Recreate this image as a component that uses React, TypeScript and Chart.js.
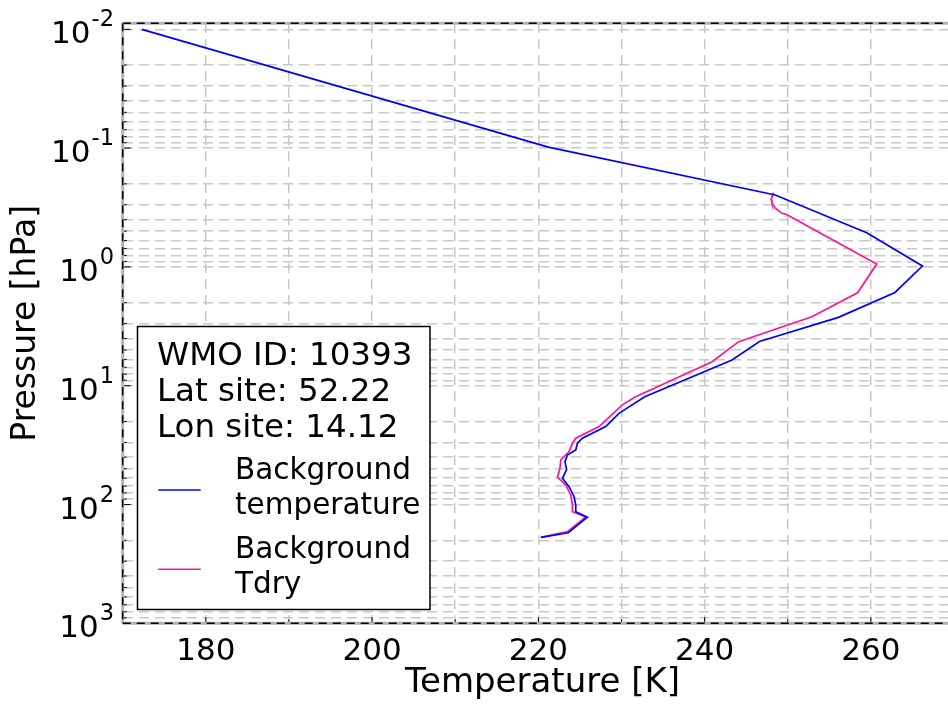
import React, { useEffect, useRef } from 'react';
import { Chart, registerables } from 'chart.js';

Chart.register(...registerables);

const FONT = '"DejaVu Sans", "Liberation Sans", sans-serif';

// Background temperature profile: pressure [hPa] and temperature [K]
const bluePressure = [0.01, 0.098, 0.248, 0.515, 0.983, 1.64, 2.66, 4.25, 6.08, 12.4, 17.1, 22.1, 27.7, 30.5, 34.8, 38.3, 43.6, 50.6, 60.2, 70.8, 86.0, 101, 115, 128, 173, 189];
const blueTemp = [172.3, 221.2, 248.5, 259.5, 266.2, 262.9, 256.1, 246.6, 243.3, 232.8, 229.7, 228.1, 225.3, 224.7, 224.5, 223.5, 223.2, 223.4, 222.9, 223.7, 224.3, 224.5, 224.5, 225.9, 223.6, 220.3];

// Background Tdry profile
const pinkPressure = [0.237, 0.27, 0.29, 0.32, 0.354, 0.36, 0.945, 1.65, 2.63, 4.26, 6.28, 12.4, 14.5, 22.1, 27.7, 30.5, 35.9, 42.2, 49.6, 59.0, 68.5, 83.2, 101, 115, 127, 169, 189];
const pinkTemp = [248.3, 248.0, 248.1, 248.5, 249.3, 249.8, 260.7, 258.4, 252.9, 244.1, 240.9, 231.7, 230.1, 227.3, 224.5, 224.1, 223.7, 222.7, 222.6, 222.3, 223.3, 223.9, 224.1, 224.1, 225.7, 223.5, 220.3];

const seriesNames = [['Background', 'temperature'], ['Background', 'Tdry']];
const seriesColors = ['#0000ff', '#ff1493'];
const infoLines = ['WMO ID: 10393', 'Lat site: 52.22', 'Lon site: 14.12'];

const xMin = 170;
const xMax = 271;
const yMin = 0.0089;
const yMax = 1000;
const yPowers = [-2, -1, 0, 1, 2, 3];

const yTickValues: number[] = [];
for (let n = -2; n <= 2; n++) {
  for (let k = 1; k <= 9; k++) yTickValues.push(Number((k * Math.pow(10, n)).toPrecision(3)));
}
yTickValues.push(1000);

const framePlugin = {
  id: 'frame',
  afterDatasetsDraw(chart: any) {
    const { ctx, chartArea } = chart;
    const { left, top, right, bottom } = chartArea;
    ctx.save();
    // inner tick marks
    ctx.strokeStyle = '#000';
    ctx.lineWidth = 1;
    const ys = chart.scales.y;
    yTickValues.forEach((v) => {
      const py = ys.getPixelForValue(v);
      const major = Math.abs(Math.log10(v) - Math.round(Math.log10(v))) < 1e-6;
      ctx.beginPath();
      ctx.moveTo(left, py);
      ctx.lineTo(left + (major ? 8 : 4), py);
      ctx.stroke();
    });
    const xs = chart.scales.x;
    for (let t = 180; t <= 260; t += 10) {
      const px = xs.getPixelForValue(t);
      ctx.beginPath();
      ctx.moveTo(px, bottom);
      ctx.lineTo(px, bottom - (t % 20 === 0 ? 6 : 4));
      ctx.stroke();
    }
    // frame: grey band with black dashes
    const edges = [
      [left, top, right, top],
      [left, top, left, bottom],
      [left, bottom, right, bottom],
    ];
    edges.forEach(([x1, y1, x2, y2]) => {
      ctx.setLineDash([]);
      ctx.strokeStyle = '#b4b4b4';
      ctx.lineWidth = 3;
      ctx.beginPath();
      ctx.moveTo(x1, y1);
      ctx.lineTo(x2, y2);
      ctx.stroke();
      ctx.setLineDash([8, 6]);
      ctx.strokeStyle = '#000';
      ctx.lineWidth = 1.5;
      ctx.beginPath();
      ctx.moveTo(x1, y1);
      ctx.lineTo(x2, y2);
      ctx.stroke();
    });
    ctx.restore();
  },
  afterDraw(chart: any) {
    const { ctx } = chart;
    const ys = chart.scales.y;
    ctx.save();
    ctx.fillStyle = '#000';
    ctx.textAlign = 'left';
    ctx.textBaseline = 'alphabetic';
    // y tick labels with superscript exponents
    const rightEdge = 114;
    yPowers.forEach((n) => {
      const py = ys.getPixelForValue(Math.pow(10, n));
      const exp = String(n);
      ctx.font = `22.5px ${FONT}`;
      const ew = ctx.measureText(exp).width;
      ctx.fillText(exp, rightEdge - ew, py - 3);
      ctx.font = `31px ${FONT}`;
      const bw = ctx.measureText('10').width;
      ctx.fillText('10', rightEdge - ew - bw - 1, py + 14);
    });

    // legend box
    const bx = 137.5, by = 326.5, bw = 292.5, bh = 283;
    ctx.fillStyle = '#fff';
    ctx.fillRect(bx, by, bw, bh);
    ctx.strokeStyle = '#000';
    ctx.lineWidth = 1.5;
    ctx.strokeRect(bx, by, bw, bh);
    ctx.fillStyle = '#000';
    ctx.font = `32.5px ${FONT}`;
    infoLines.forEach((t, i) => ctx.fillText(t, 157, 365 + i * 36.2));
    ctx.font = `29.5px ${FONT}`;
    const itemTop = [479, 558.3];
    seriesNames.forEach((lines, i) => {
      ctx.strokeStyle = seriesColors[i];
      ctx.lineWidth = 1.5;
      ctx.beginPath();
      const ly = itemTop[i] + 11;
      ctx.moveTo(158.3, ly);
      ctx.lineTo(200.7, ly);
      ctx.stroke();
      ctx.fillStyle = '#000';
      lines.forEach((t, j) => ctx.fillText(t, 235, itemTop[i] + j * 34.5));
    });
    ctx.restore();
  },
};

export default function App() {
  const ref = useRef<HTMLCanvasElement>(null);
  useEffect(() => {
    const gridOpts = { color: '#c8c8c8', lineWidth: 1.5, drawTicks: false };
    const borderOpts = { display: false, dash: [10, 6] };
    const chart = new Chart(ref.current as HTMLCanvasElement, {
      type: 'scatter',
      data: {
        datasets: [
          {
            label: seriesNames[0].join(' '),
            data: bluePressure.map((p, i) => ({ x: blueTemp[i], y: p })),
            showLine: true,
            borderColor: seriesColors[0],
            backgroundColor: seriesColors[0],
            borderWidth: 1.7,
            pointRadius: 0,
            tension: 0,
          },
          {
            label: seriesNames[1].join(' '),
            data: pinkPressure.map((p, i) => ({ x: pinkTemp[i], y: p })),
            showLine: true,
            borderColor: seriesColors[1],
            backgroundColor: seriesColors[1],
            borderWidth: 1.7,
            pointRadius: 0,
            tension: 0,
          },
        ],
      },
      options: {
        animation: false,
        responsive: false,
        maintainAspectRatio: false,
        layout: { padding: { top: 23.3, left: 0, right: 0, bottom: 0 } },
        plugins: { legend: { display: false }, tooltip: { enabled: false } },
        scales: {
          x: {
            type: 'linear',
            min: xMin,
            max: xMax,
            ticks: {
              stepSize: 10,
              includeBounds: false,
              autoSkip: false,
              maxRotation: 0,
              padding: 10,
              color: '#000',
              font: { family: FONT, size: 31 },
              callback: (v: any) => (Number(v) % 20 === 0 ? String(v) : ''),
            },
            grid: gridOpts,
            border: borderOpts,
            title: {
              display: true,
              text: 'Temperature [K]',
              color: '#000',
              font: { family: FONT, size: 34 },
              padding: { top: 0, bottom: 0 },
            },
            afterFit: (s: any) => {
              s.height = 80.7;
            },
          },
          y: {
            type: 'logarithmic',
            reverse: true,
            min: yMin,
            max: yMax,
            ticks: { display: false },
            afterBuildTicks: (s: any) => {
              s.ticks = yTickValues.map((v) => ({ value: v }));
            },
            grid: gridOpts,
            border: borderOpts,
            title: {
              display: true,
              text: 'Pressure [hPa]',
              color: '#000',
              font: { family: FONT, size: 33 },
              padding: { top: 7, bottom: 0 },
            },
            afterFit: (s: any) => {
              s.width = 122.7;
            },
          },
        },
      } as any,
      plugins: [framePlugin],
    });
    return () => chart.destroy();
  }, []);
  return (
    <div style={{ position: 'fixed', left: 0, top: 0, width: 948, height: 704, overflow: 'hidden', background: '#fff' }}>
      <div style={{ width: 964, height: 704 }}>
        <canvas ref={ref} width={964} height={704} style={{ display: 'block' }} />
      </div>
    </div>
  );
}
